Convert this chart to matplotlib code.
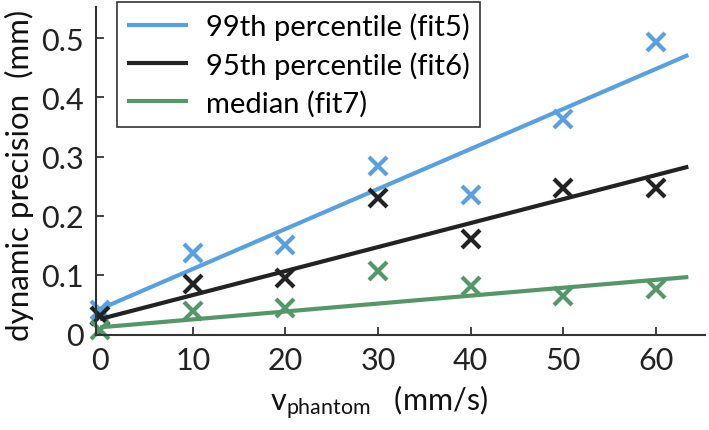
import numpy as np
import matplotlib
matplotlib.use("Agg")
import matplotlib.pyplot as plt

plt.rcParams['font.family'] = ['Lato', 'DejaVu Sans']
plt.rcParams['mathtext.fontset'] = 'custom'
plt.rcParams['mathtext.rm'] = 'Lato'

# measured points (mm) per phantom speed
v_phantom = [0, 10, 20, 30, 40, 50, 60]
p99 = [0.040, 0.136, 0.151, 0.284, 0.235, 0.364, 0.494]
p95 = [0.030, 0.085, 0.095, 0.229, 0.161, 0.247, 0.247]
med = [0.006, 0.038, 0.043, 0.106, 0.081, 0.064, 0.075]

# linear fits: intercept, slope
fit5 = [0.042, 0.00677]
fit6 = [0.025, 0.00406]
fit7 = [0.011, 0.00134]

labels = ["99th percentile (fit5)", "95th percentile (fit6)", "median (fit7)"]
colors = ["#5A9FE0", "#222222", "#56976A"]

fig = plt.figure(figsize=(7.09, 4.31), dpi=100)
ax = fig.add_axes([96/709, 1 - 336/431, (705 - 96)/709, (336 - 8)/431])

xf = np.array([0, 63.5])
for pts, fit, lab, c in zip([p99, p95, med], [fit5, fit6, fit7], labels, colors):
    ax.plot(xf, fit[0] + fit[1]*xf, color=c, lw=3, label=lab, solid_capstyle='butt')
    ax.plot(v_phantom, pts, 'x', color=c, ms=13, mew=3, clip_on=False)

ax.set_xlim(-0.45, 65.3)
ax.set_ylim(-0.002, 0.553)
ax.set_xticks([0, 10, 20, 30, 40, 50, 60])
ax.set_yticks([0, 0.1, 0.2, 0.3, 0.4, 0.5])
ax.set_yticklabels(["0", "0.1", "0.2", "0.3", "0.4", "0.5"])
ax.tick_params(direction='in', length=6, width=1.2, labelsize=22, colors='#222222')
ax.tick_params(axis='x', pad=8)
ax.tick_params(axis='y', pad=9)
for s in ['top', 'right']:
    ax.spines[s].set_visible(False)
for s in ['left', 'bottom']:
    ax.spines[s].set_linewidth(1.5)
    ax.spines[s].set_color('#333333')

ax.set_ylabel("dynamic precision  (mm)", fontsize=22.5, color='#111111')
ax.yaxis.set_label_coords(-0.102, 0.49)
ax.set_xlabel(r"$\mathregular{v_{phantom}}$   (mm/s)", fontsize=22, color='#111111')
ax.xaxis.set_label_coords(0.465, -0.145)

leg = ax.legend(loc='upper left', fontsize=21, frameon=True, fancybox=False,
                edgecolor='black', handlelength=2.1, handletextpad=0.6,
                labelspacing=0.38, borderpad=0.35, borderaxespad=0)
leg.get_frame().set_linewidth(1.2)
leg.set_bbox_to_anchor((117/709, 1 - 3/431), transform=fig.transFigure)

fig.savefig("out.png", dpi=100)
